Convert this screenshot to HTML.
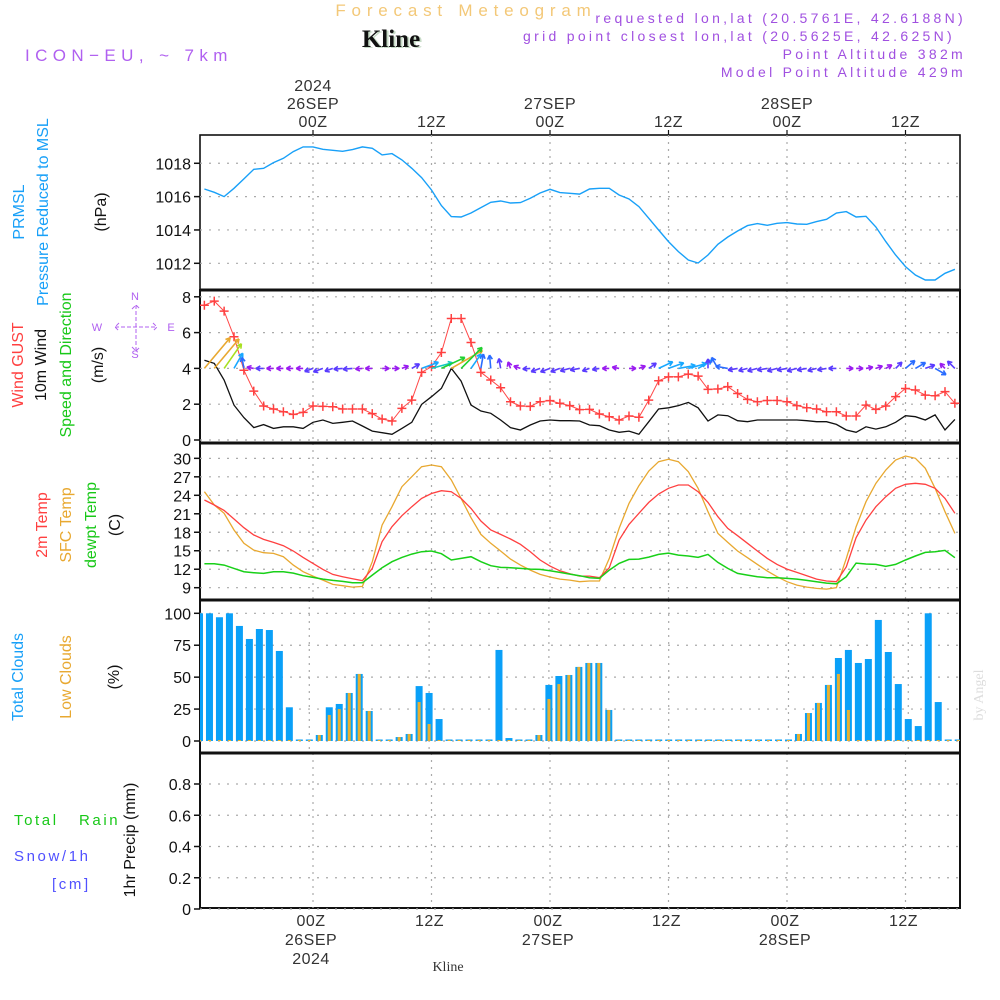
<!DOCTYPE html>
<html><head><meta charset="utf-8">
<style>
html,body{margin:0;padding:0;background:#fff;}
svg{display:block;font-family:"Liberation Sans",sans-serif;}
</style></head>
<body>
<svg id="chart" width="1000" height="1000" viewBox="0 0 1000 1000" xmlns="http://www.w3.org/2000/svg">
<rect x="0" y="0" width="1000" height="1000" fill="#fff"/>
<text x="466" y="16" text-anchor="middle" font-size="17" letter-spacing="5.8" fill="#f3c878">Forecast Meteogram</text>
<text x="393" y="48" text-anchor="middle" font-size="25" font-weight="bold" font-family="Liberation Serif, serif" fill="#c8dcc8">Kline</text>
<text x="391" y="47" text-anchor="middle" font-size="25" font-weight="bold" font-family="Liberation Serif, serif" fill="#111">Kline</text>
<text x="25" y="61" font-size="17" letter-spacing="5.4" fill="#b060f0">ICON−EU, ~ 7km</text>
<g font-size="14" letter-spacing="3.3" fill="#a050e0" text-anchor="end">
<text x="966" y="23">requested lon,lat (20.5761E, 42.6188N)</text>
<text x="955" y="41">grid point closest lon,lat (20.5625E, 42.625N)</text>
<text x="966" y="59">Point Altitude 382m</text>
<text x="966" y="77">Model Point Altitude 429m</text>
</g>
<g id="frames"></g>
<g id="grid"></g>
<g id="marks"></g>
<g id="axes" font-size="16" fill="#111"></g>
<g id="labels"></g>
<text x="448" y="971" text-anchor="middle" font-size="14" font-family="Liberation Serif, serif" fill="#333">Kline</text>
<text transform="translate(983,695) rotate(-90)" text-anchor="middle" font-size="14" font-family="Liberation Serif, serif" fill="#ddd">by Angel</text>
</svg>
<script>
// ---- data (hourly, starting 26SEP 00Z minus 11h) ----
const startHour = -11;
const pressure = [1016.46,1016.26,1016.0,1016.5,1017.06,1017.64,1017.7,1018.04,1018.3,1018.7,1018.98,1018.98,1018.84,1018.78,1018.72,1018.82,1018.98,1018.9,1018.5,1018.58,1018.2,1017.7,1017.14,1016.4,1015.46,1014.8,1014.78,1015.02,1015.34,1015.66,1015.74,1015.62,1015.64,1015.9,1016.22,1016.44,1016.24,1016.2,1016.15,1016.46,1016.5,1016.5,1016.1,1015.86,1015.4,1014.7,1014.0,1013.3,1012.7,1012.2,1012.02,1012.5,1013.14,1013.58,1013.94,1014.26,1014.38,1014.28,1014.4,1014.44,1014.36,1014.34,1014.5,1014.64,1015.02,1015.1,1014.78,1014.82,1014.18,1013.3,1012.5,1011.8,1011.3,1011.0,1011.0,1011.4,1011.64];
const gust = [7.53,7.76,7.2,5.77,3.9,2.73,1.9,1.73,1.58,1.43,1.54,1.9,1.88,1.86,1.73,1.73,1.73,1.47,1.17,1.06,1.77,2.23,3.78,4.09,4.89,6.79,6.79,5.45,3.78,3.35,2.92,2.14,1.9,1.88,2.14,2.2,2.05,1.92,1.7,1.71,1.45,1.3,1.12,1.34,1.27,2.23,3.31,3.53,3.53,3.68,3.57,2.83,2.85,2.98,2.6,2.27,2.14,2.21,2.21,2.14,1.92,1.8,1.73,1.58,1.58,1.34,1.34,1.95,1.71,1.9,2.42,2.88,2.79,2.51,2.47,2.7,2.05];
const wind10m = [4.45,4.28,3.35,1.95,1.25,0.69,0.86,0.65,0.74,0.74,0.65,0.99,1.12,0.93,0.99,1.06,0.78,0.5,0.41,0.32,0.65,0.99,1.99,2.42,2.88,4.0,3.29,1.95,1.62,1.49,1.12,0.69,0.56,0.84,1.06,1.12,1.08,1.08,1.06,0.84,0.8,0.56,0.43,0.5,0.32,1.02,1.73,1.8,1.92,2.1,1.8,1.06,1.4,1.36,1.08,1.02,1.12,1.12,1.12,1.12,1.12,1.08,1.02,1.02,0.87,0.56,0.43,0.74,0.61,0.74,0.99,1.36,1.3,1.12,1.4,0.56,1.15];
const windToDir = [50,50,55,60,100,170,180,180,180,180,180,200,200,200,185,185,185,180,0,0,20,30,20,15,25,30,45,55,80,95,100,110,160,185,200,200,200,195,190,200,190,180,170,0,20,35,25,20,10,15,30,90,120,170,190,195,195,190,195,190,195,190,195,190,180,0,0,10,20,30,45,40,30,20,-30,135,135];
const temp2m = [23.23,22.42,21.55,20.15,18.74,17.55,16.84,16.36,15.82,14.95,13.92,12.95,11.97,11.16,10.78,10.45,10.13,12.13,16.46,18.9,20.69,22.15,23.5,24.3,24.74,24.59,23.5,21.88,19.82,18.36,17.66,16.9,16.04,14.84,13.49,12.51,11.75,11.27,10.89,10.89,10.62,12.24,16.74,19.28,21.07,22.85,24.21,25.13,25.67,25.67,24.59,22.85,20.53,18.63,17.44,16.2,14.95,13.76,12.78,12.02,11.48,10.94,10.4,10.08,9.97,12.4,17.11,19.98,22.15,23.77,25.13,25.78,25.94,25.78,25.13,23.5,21.07];
const tempSfc = [24.59,22.42,21.07,18.36,16.2,15.11,14.68,14.57,14.03,12.67,11.59,10.89,10.24,9.53,9.32,9.1,9.21,13.22,19.17,22.15,25.4,27.02,28.65,28.92,28.65,26.48,23.5,20.36,17.66,16.2,14.95,13.65,12.67,11.86,11.16,10.73,10.4,10.24,9.97,10.08,10.08,13.76,18.63,22.69,25.56,27.94,29.46,29.84,29.46,27.83,25.13,21.34,17.82,16.36,14.95,13.87,12.78,11.7,10.78,9.97,9.43,9.1,8.89,8.78,9.0,13.76,18.9,22.96,25.94,28.11,29.73,30.38,30.0,28.38,25.13,21.34,17.82];
const dewpt = [12.89,12.89,12.67,12.13,11.59,11.43,11.32,11.59,11.59,11.37,10.94,10.67,10.4,10.18,10.02,9.8,9.8,11.05,12.24,13.22,13.92,14.46,14.84,14.95,14.52,13.49,13.76,14.03,13.22,12.57,12.3,12.24,12.13,12.02,11.97,11.75,11.48,11.21,10.94,10.62,10.51,11.86,12.95,13.6,13.65,13.97,14.41,14.62,14.3,14.14,13.92,14.41,13.11,12.13,11.32,11.05,10.78,10.62,10.62,10.51,10.4,10.18,9.97,9.75,9.64,10.78,13.0,12.84,12.78,12.46,12.78,13.49,14.14,14.73,14.84,15.06,13.87];
const totalClouds = [100,100,96.9,100,90.1,79.9,87.7,86.9,70.5,26.4,0,0,4.7,26.4,29,37.6,52.5,23.5,0,0,3.1,5.5,43,37.6,17.2,0,0.8,0,0.8,0,71.3,2.3,0,0,4.7,43.9,50.9,51.7,58,61.1,61.1,24.3,0,0,0,0,0,0,0,0,0,0,0,0,0,0,0,0,0,0,5.5,21.9,29.8,43.9,65,71.3,61.1,64.2,94.8,69.7,44.6,17.2,11.7,100,30.5,0,0];
const lowClouds = [0,0,0,0,0,0,0,0,0,0,0,0,4.7,20.4,25,37.6,52.5,23.5,0,0,3.1,5.5,30.5,13.3,0.8,0,0,0,0,0,0,0,0,0,4.7,32.9,44.6,51.7,58,61.1,61.1,24.3,0,0,0,0,0,0,0,0,0,0,0,0,0,0,0,0,0,0,5.5,21.9,29.8,43.9,52.5,24.3,0,0,0,0,0,0,0,0,0,0,0];
const precip = [0,0,0,0,0,0,0,0,0,0,0,0,0,0,0,0,0,0,0,0,0,0,0,0,0,0,0,0,0,0,0,0,0,0,0,0,0,0,0,0,0,0,0,0,0,0,0,0,0,0,0,0,0,0,0,0,0,0,0,0,0,0,0,0,0,0,0,0,0,0,0,0,0,0,0,0,0];
const pressTicks = [1012,1014,1016,1018];
const windTicks = [0,2,4,6,8];
const tempTicks = [9,12,15,18,21,24,27,30];
const cloudTicks = [0,25,50,75,100];
const precipTicks = [0,0.2,0.4,0.6,0.8];
const precipTickLabels = ["0","0.2","0.4","0.6","0.8"];
const timeTicks = [0,12,24,36,48,60];
const topTimeLabels = [["2024","26SEP","00Z"],["12Z"],["27SEP","00Z"],["12Z"],["28SEP","00Z"],["12Z"]];
const bottomTimeLabels = [["00Z","26SEP","2024"],["12Z"],["00Z","27SEP"],["12Z"],["00Z","28SEP"],["12Z"]];

// ---- scales ----
const L=200,R=960;
const X = h => 313 + 9.875*h;
const Xc = h => 309.3 + 9.983*h;
const Yp = v => 263.3 - (v-1012)*16.67;
const Yw = v => 440 - v*17.9;
const Yt = v => 587.7 - (v-9)*6.16;
const Yc = v => 741 - v*1.277;
const Yr = v => 909 - v*156.25;
const panels = [[135,290],[290,443],[443,600],[600,753],[753,908]];
const NS="http://www.w3.org/2000/svg";
function mk(tag, attrs, parent){const e=document.createElementNS(NS,tag);for(const k in attrs)e.setAttribute(k,attrs[k]);parent.appendChild(e);return e;}
const gFr=document.getElementById('frames'),gG=document.getElementById('grid'),gM=document.getElementById('marks'),gA=document.getElementById('axes'),gL=document.getElementById('labels');

const defs=mk('defs',{},document.getElementById('chart'));
const cp=mk('clipPath',{id:'plotclip'},defs);mk('rect',{x:L,y:135,width:R-L,height:773},cp);
gM.setAttribute('clip-path','url(#plotclip)');

function hgrid(ticks, Y, name){
  ticks.forEach(v=>{const l=mk('line',{x1:L,x2:R,y1:Y(v),y2:Y(v),stroke:'#aaa','stroke-width':1.2,'stroke-dasharray':'2,7'},gG);
  
  });
}
hgrid(pressTicks,Yp,'pressure');hgrid(windTicks,Yw,'wind');hgrid(tempTicks,Yt,'temp');hgrid(cloudTicks,Yc,'cloud');hgrid(precipTicks,Yr,'precip');
panels.forEach((p,pi)=>{timeTicks.forEach(h=>{const x=pi===3?Xc(h):X(h);
  const l=mk('line',{x1:x,x2:x,y1:p[0],y2:p[1],stroke:'#aaa','stroke-width':1.2,'stroke-dasharray':'2,5'},gG);
  
  });});

function line(arr,Y,color,name,w){
  const pts=arr.map((v,i)=>X(startHour+i).toFixed(1)+','+Y(v).toFixed(1)).join(' ');
  const pl=mk('polyline',{points:pts,fill:'none',stroke:color,'stroke-width':w||1.3},gM);
  
  
}
line(pressure,Yp,'#18a0f8','pressure-line',1.4);
line(wind10m,Yw,'#111','wind-10m-line',1.3);
line(gust,Yw,'#ff4848','wind-gust-line',1);
gust.forEach((v,i)=>{const x=X(startHour+i),y=Yw(v);
  const p=mk('path',{d:`M${x-4.5},${y}H${x+4.5}M${x},${y-4.5}V${y+4.5}`,stroke:'#ff4040','stroke-width':1.5},gM);
  
  });
function wcol(s){return s<0.8?'#9a1cf0':s<1.2?'#5a3cff':s<1.7?'#2a6cff':s<2.2?'#18a8ff':s<2.7?'#10c8c0':s<3.3?'#20d030':s<4?'#a8e020':'#e8a830';}
windToDir.forEach((d,i)=>{const s=wind10m[i],Lg=Math.max(7,9*s),a=d*Math.PI/180;
  const x0=X(startHour+i),y0=Yw(4),x1=x0+Lg*Math.cos(a),y1=y0-Lg*Math.sin(a);
  const h1=a+Math.PI-0.5,h2=a+Math.PI+0.5;
  const p=mk('path',{d:`M${x0},${y0}L${x1},${y1}M${x1},${y1}L${x1+5*Math.cos(h1)},${y1-5*Math.sin(h1)}M${x1},${y1}L${x1+5*Math.cos(h2)},${y1-5*Math.sin(h2)}`,stroke:wcol(s),'stroke-width':1.6,fill:'none'},gM);
  
  });
line(tempSfc,Yt,'#e8a830','sfc-temp-line',1.3);
line(temp2m,Yt,'#ff4040','temp-2m-line',1.3);
line(dewpt,Yt,'#18d018','dewpoint-line',1.5);
totalClouds.forEach((v,i)=>{const x=Xc(startHour+i),y=Yc(v),hgt=Math.max(1.5,741-y);
  const r=mk('rect',{x:x-3.5,y:741-hgt,width:7,height:hgt,fill:'#0aa0f8'},gM);
  
  });
lowClouds.forEach((v,i)=>{const x=Xc(startHour+i),y=Yc(v),hgt=Math.max(1,741-y);
  const r=mk('rect',{x:x-1.5,y:741-hgt,width:3,height:hgt,fill:'#e8b030'},gM);
  
  });
const pp=mk('polyline',{points:precip.map((v,i)=>X(startHour+i)+','+Yr(v)).join(' '),fill:'none',stroke:'#222','stroke-width':1.5,'stroke-dasharray':'4,3'},gM);



panels.forEach((p,i)=>{const r=mk('rect',{x:L,y:p[0],width:R-L,height:p[1]-p[0],fill:'none',stroke:'#111','stroke-width':i===0?1.6:2},gFr);
  
  });
[290,443,600,753].forEach(y=>{const l=mk('line',{x1:L,x2:R,y1:y,y2:y,stroke:'#111','stroke-width':3},gA);
  
  });

function yticks(ticks,labels,Y,name){ticks.forEach((v,i)=>{const y=Y(v);
  const l=mk('line',{x1:L-6,x2:L,y1:y,y2:y,stroke:'#111','stroke-width':1.5},gA);
  
  
  const t=mk('text',{x:L-9,y:y+6,'text-anchor':'end'},gA);t.textContent=labels[i];
  
  });}
yticks(pressTicks,pressTicks.map(String),Yp,'pressure');
yticks(windTicks,windTicks.map(String),Yw,'wind');
yticks(tempTicks,tempTicks.map(String),Yt,'temp');
yticks(cloudTicks,cloudTicks.map(String),Yc,'cloud');
yticks(precipTicks,precipTickLabels,Yr,'precip');

timeTicks.forEach((h,i)=>{const x=X(h);
  const tk=mk('line',{x1:x,x2:x,y1:130,y2:135,stroke:'#111','stroke-width':1.2},gA);
  
  
  const tl=topTimeLabels[i];tl.forEach((s,j)=>{const t=mk('text',{x:x,y:127-(tl.length-1-j)*18,'text-anchor':'middle','font-size':'16','fill':'#333','letter-spacing':'0.5'},gA);t.textContent=s;
    
    });
  const bl=bottomTimeLabels[i];bl.forEach((s,j)=>{const t=mk('text',{x:x-2,y:926+j*19,'text-anchor':'middle','font-size':'16','fill':'#333','letter-spacing':'0.5'},gA);t.textContent=s;
    
    });
});

function vlab(txt,x,y,color,name,size){const t=mk('text',{transform:`translate(${x},${y}) rotate(-90)`,'text-anchor':'middle','font-size':size||16,fill:color},gL);t.textContent=txt;
  
  }
vlab('PRMSL',24,212,'#18a0f8','pressure-title');
vlab('Pressure Reduced to MSL',48,212,'#18a0f8','pressure-subtitle');
vlab('(hPa)',106,212,'#111','pressure-unit');
vlab('Wind GUST',23,365,'#ff4040','gust-title');
vlab('10m Wind',46,365,'#111','wind-title');
vlab('Speed and Direction',71,365,'#18c818','wind-subtitle');
vlab('(m/s)',103,365,'#111','wind-unit');
vlab('2m Temp',47,525,'#ff4040','temp-2m-title');
vlab('SFC Temp',71,525,'#e8a830','sfc-temp-title');
vlab('dewpt Temp',96,525,'#18c818','dewpt-title');
vlab('(C)',120,525,'#111','temp-unit');
vlab('Total Clouds',23,677,'#18a0f8','total-cloud-title');
vlab('Low Clouds',71,677,'#e8a830','low-cloud-title');
vlab('(%)',119,677,'#111','cloud-unit');
vlab('1hr Precip (mm)',135,840,'#111','precip-title');
function hlab(txt,x,y,color,name){const t=mk('text',{x:x,y:y,'font-size':15,fill:color,'letter-spacing':'2.6'},gL);t.textContent=txt;
  
  }
hlab('Total',14,825,'#18c818','rain-label-total');
hlab('Rain',79,825,'#18c818','rain-label');
hlab('Snow/1h',14,861,'#5050ff','snow-label');
hlab('[cm]',52,889,'#5050ff','snow-unit');
const cg=mk('g',{fill:'#b060f0','font-size':'11','text-anchor':'middle'},gL);


[['N',135,300],['S',135,358],['W',97,331],['E',171,331]].forEach(a=>{const t=mk('text',{x:a[1],y:a[2]},cg);t.textContent=a[0];});
mk('path',{d:'M115,327H157M136,305V351M119,323L115,327L119,331M153,323L157,327L153,331M132,309L136,305L140,309M132,347L136,351L140,347',stroke:'#b060f0','stroke-width':1,'stroke-dasharray':'4,2',fill:'none'},cg);
</script>
</body></html>
